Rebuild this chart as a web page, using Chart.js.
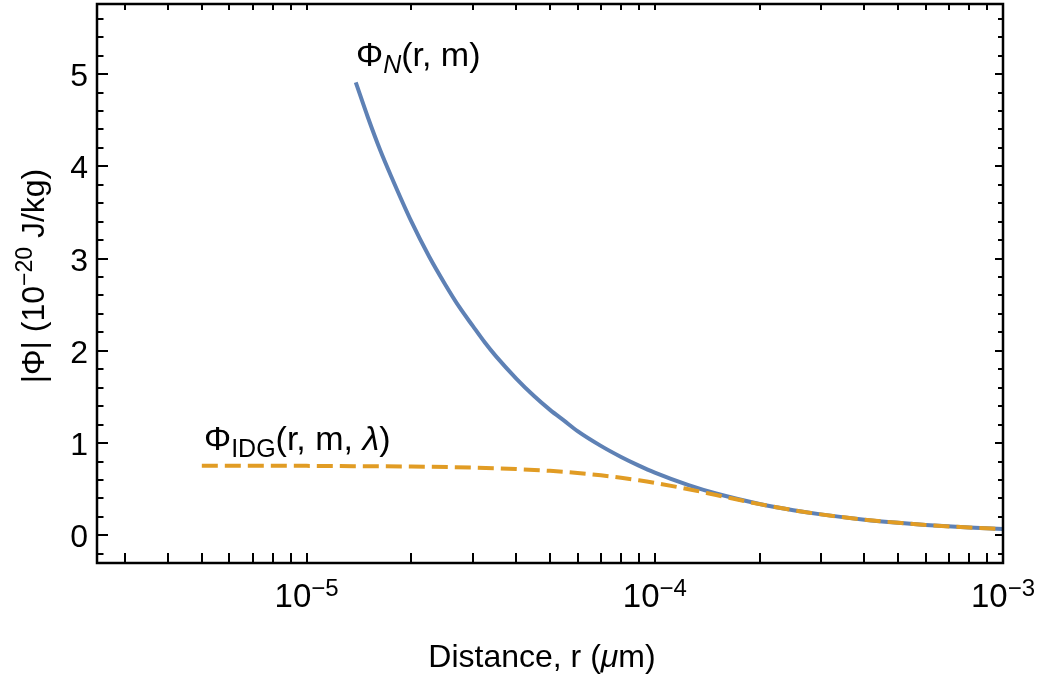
<!DOCTYPE html>
<html>
<head>
<meta charset="utf-8">
<title>Potential vs distance</title>
<script src="https://cdn.jsdelivr.net/npm/chart.js@4.4.0/dist/chart.umd.min.js"></script>
<style>
    html, body { margin: 0; padding: 0; background: #ffffff; }
    #wrap { width: 1047px; height: 682px; position: relative; }
</style>
</head>
<body>
<div id="wrap"><canvas id="phiChart"></canvas></div>
<script>
// r in um, |Phi| in 1e-20 J/kg
const newtonR = [1.384e-5, 1.5e-5, 1.625e-5, 1.75e-5, 2e-5, 2.25e-5, 2.5e-5, 2.75e-5, 3e-5, 3.25e-5, 3.5e-5,
    4e-5, 4.5e-5, 5e-5, 5.5e-5, 6e-5, 7e-5, 8e-5, 9e-5,
    1e-4, 1.25e-4, 1.5e-4, 2e-4, 2.5e-4, 3e-4, 4e-4, 5e-4, 6e-4, 8e-4, 1e-3];
const newtonPhi = [4.91, 4.53, 4.18, 3.89, 3.40, 3.02, 2.72, 2.47, 2.27, 2.09, 1.94,
    1.70, 1.51, 1.36, 1.24, 1.13, 0.97, 0.85, 0.756,
    0.68, 0.544, 0.453, 0.34, 0.272, 0.227, 0.17, 0.136, 0.113, 0.085, 0.068];

const idgR = [5e-6, 7e-6, 1e-5, 1.5e-5, 2e-5, 3e-5, 4e-5, 5e-5, 6e-5, 7e-5, 8e-5, 9e-5,
    1e-4, 1.25e-4, 1.5e-4, 2e-4, 2.5e-4, 3e-4, 4e-4, 5e-4, 6e-4, 8e-4, 1e-3];
const idgPhi = [0.755, 0.754, 0.753, 0.749, 0.746, 0.734, 0.718, 0.699, 0.676, 0.651, 0.624, 0.597,
    0.569, 0.50, 0.437, 0.338, 0.272, 0.227, 0.17, 0.136, 0.113, 0.085, 0.068];

const xMajorTicks = [1e-5, 1e-4, 1e-3];
const xMajorExponents = ["\u22125", "\u22124", "\u22123"];
const xMinorTicks = [3e-6, 4e-6, 5e-6, 6e-6, 7e-6, 8e-6, 9e-6,
    2e-5, 3e-5, 4e-5, 5e-5, 6e-5, 7e-5, 8e-5, 9e-5,
    2e-4, 3e-4, 4e-4, 5e-4, 6e-4, 7e-4, 8e-4, 9e-4];
const yMajorTicks = [0, 1, 2, 3, 4, 5];
const yMinorTicks = [-0.2, 0.2, 0.4, 0.6, 0.8, 1.2, 1.4, 1.6, 1.8, 2.2, 2.4, 2.6, 2.8,
    3.2, 3.4, 3.6, 3.8, 4.2, 4.4, 4.6, 4.8, 5.2, 5.4, 5.6];

const BLUE = "#5e81b5";
const ORANGE = "#e19c24";
const FONT = '"Liberation Sans", Arial, sans-serif';

function fontOf(size, italic) {
    return (italic ? "italic " : "") + size + "px " + FONT;
}

// draws a run of text pieces (for sub/superscripts); align: left | center | right
function drawRich(ctx, x, y, segs, align) {
    let total = 0;
    for (const s of segs) {
        ctx.font = fontOf(s.size, s.italic);
        total += ctx.measureText(s.text).width;
    }
    let cx = x;
    if (align === "center") cx = x - total / 2;
    if (align === "right") cx = x - total;
    ctx.textAlign = "left";
    ctx.textBaseline = "alphabetic";
    for (const s of segs) {
        ctx.font = fontOf(s.size, s.italic);
        ctx.fillText(s.text, cx, y + (s.dy || 0));
        cx += ctx.measureText(s.text).width;
    }
}

const framePlugin = {
    id: "framePlugin",
    afterDraw(chart) {
        const ctx = chart.ctx;
        const xs = chart.scales.x;
        const ys = chart.scales.y;
        const a = chart.chartArea;

        ctx.save();
        ctx.strokeStyle = "#000";
        ctx.fillStyle = "#000";

        // ticks, pointing inward
        ctx.lineWidth = 2;
        ctx.beginPath();
        for (const v of xMajorTicks.concat(xMinorTicks)) {
            const px = Math.round(xs.getPixelForValue(v));
            ctx.moveTo(px, a.bottom); ctx.lineTo(px, a.bottom - 10);
            ctx.moveTo(px, a.top); ctx.lineTo(px, a.top + 6);
        }
        for (const v of yMajorTicks) {
            const py = Math.round(ys.getPixelForValue(v));
            ctx.moveTo(a.left, py); ctx.lineTo(a.left + 11, py);
            ctx.moveTo(a.right, py); ctx.lineTo(a.right - 8, py);
        }
        for (const v of yMinorTicks) {
            const py = Math.round(ys.getPixelForValue(v));
            ctx.moveTo(a.left, py); ctx.lineTo(a.left + 6.5, py);
            ctx.moveTo(a.right, py); ctx.lineTo(a.right - 5, py);
        }
        ctx.stroke();

        // frame
        ctx.lineWidth = 2.5;
        ctx.strokeRect(a.left, a.top, a.right - a.left, a.bottom - a.top);

        // y tick labels
        for (const v of yMajorTicks) {
            const py = ys.getPixelForValue(v);
            drawRich(ctx, a.left - 9, py + 12, [{text: String(v), size: 32}], "right");
        }

        // x tick labels 10^n
        xMajorTicks.forEach((v, i) => {
            const px = xs.getPixelForValue(v);
            drawRich(ctx, px, a.bottom + 44, [
                {text: "10", size: 33},
                {text: xMajorExponents[i], size: 24, dy: -11}
            ], "center");
        });

        // axis titles
        drawRich(ctx, (a.left + a.right) / 2 - 8, 667, [
            {text: "Distance, r (", size: 32},
            {text: "\u03bc", size: 32, italic: true},
            {text: "m)", size: 32}
        ], "center");

        ctx.save();
        ctx.translate(44, 276);
        ctx.rotate(-Math.PI / 2);
        drawRich(ctx, 0, 0, [
            {text: "|\u03a6| (10", size: 32},
            {text: "\u221220", size: 23, dy: -12},
            {text: " J/kg)", size: 32}
        ], "center");
        ctx.restore();

        // curve labels
        drawRich(ctx, 356, 66, [
            {text: "\u03a6", size: 34},
            {text: "N", size: 25, italic: true, dy: 7},
            {text: "(r, m)", size: 34}
        ], "left");
        drawRich(ctx, 204, 450, [
            {text: "\u03a6", size: 34},
            {text: "IDG", size: 25, dy: 7},
            {text: "(r, m, ", size: 34},
            {text: "\u03bb", size: 34, italic: true},
            {text: ")", size: 34}
        ], "left");

        ctx.restore();
    }
};

const newtonData = newtonR.map((r, i) => ({x: r, y: newtonPhi[i]}));
const idgData = idgR.map((r, i) => ({x: r, y: idgPhi[i]}));

const chart = new Chart(document.getElementById("phiChart").getContext("2d"), {
    type: "line",
    data: {
        datasets: [
            {
                label: "IDG",
                data: idgData,
                borderColor: ORANGE,
                borderWidth: 4,
                borderDash: [16, 7],
                pointRadius: 0,
                cubicInterpolationMode: "monotone",
                fill: false,
                order: 0
            },
            {
                label: "Newton",
                data: newtonData,
                borderColor: BLUE,
                borderWidth: 4,
                pointRadius: 0,
                cubicInterpolationMode: "monotone",
                fill: false,
                order: 1
            }
        ]
    },
    options: {
        responsive: true,
        maintainAspectRatio: false,
        animation: false,
        layout: {padding: {left: 97, right: 44, top: 4, bottom: 119}},
        scales: {
            x: {type: "logarithmic", min: 2.5e-6, max: 1e-3, display: false},
            y: {type: "linear", min: -0.3, max: 5.76, display: false}
        },
        plugins: {
            legend: {display: false},
            tooltip: {enabled: false}
        }
    },
    plugins: [framePlugin]
});
</script>
</body>
</html>
